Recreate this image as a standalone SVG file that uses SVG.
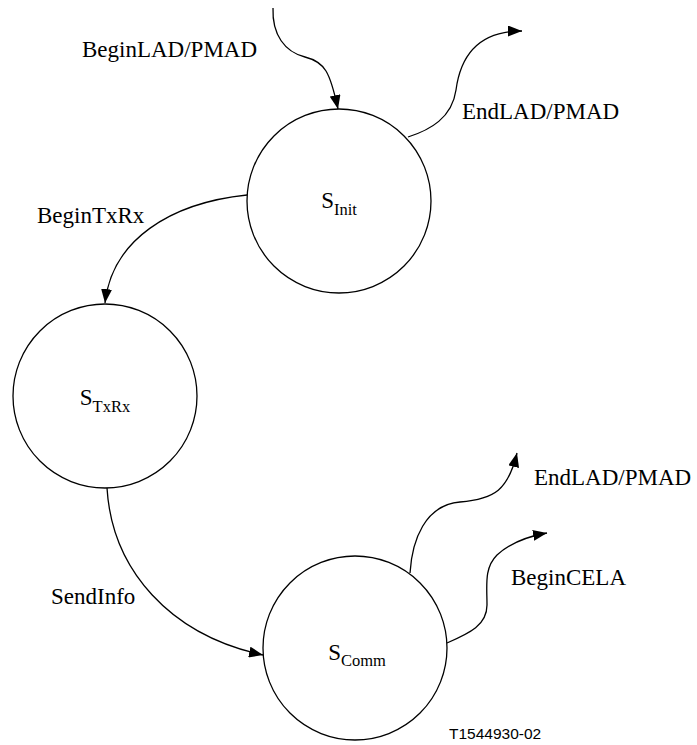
<svg xmlns="http://www.w3.org/2000/svg" width="697" height="745" viewBox="0 0 697 745">
<style>
.node{fill:#fff;stroke:#000;stroke-width:1.3}
.edge{fill:none;stroke:#000;stroke-width:1.3}
.lbl{font-size:23px;fill:#000}
.sub{font-size:16.5px}
.code{font-size:15.5px;fill:#000}
</style>
<defs>
<marker id="arr" markerUnits="userSpaceOnUse" markerWidth="14" markerHeight="11" refX="14" refY="5.5" orient="auto">
<path d="M0,0 L14,5.5 L0,11 Z" fill="#000"/>
</marker>
</defs>
<g id="connectors" font-family="Liberation Serif, DejaVu Serif, serif">
<path class="edge" marker-end="url(#arr)" d="M273,8 C272,35 285,52 305,57 C325,62 330,72 338,109"/>
<path class="edge" marker-end="url(#arr)" d="M408,137 C430,130 452,118 456,90 C460,60 475,31 522,31"/>
<path class="edge" marker-end="url(#arr)" d="M247,195 C170,203 112,240 105,303"/>
<path class="edge" marker-end="url(#arr)" d="M107,488 C112,570 170,635 263,655"/>
<path class="edge" marker-end="url(#arr)" d="M410,573 C412,540 425,505 460,502 C495,499 508,490 517,453"/>
<path class="edge" marker-end="url(#arr)" d="M447,643 C470,633 487,625 487,605 C487,585 484,568 497,555 C510,543 530,536 547,533"/>
<text class="lbl" x="82" y="57">BeginLAD/PMAD</text>
<text class="lbl" x="462" y="119">EndLAD/PMAD</text>
<text class="lbl" x="37" y="223">BeginTxRx</text>
<text class="lbl" x="51" y="604">SendInfo</text>
<text class="lbl" x="534" y="485">EndLAD/PMAD</text>
<text class="lbl" x="511" y="585">BeginCELA</text>
</g>
<g id="S_Init" font-family="Liberation Serif, DejaVu Serif, serif">
<circle class="node" cx="339" cy="201" r="92"/>
<text class="lbl" x="339" y="208" text-anchor="middle">S<tspan class="sub" dy="7">Init</tspan></text>
</g>
<g id="S_TxRx" font-family="Liberation Serif, DejaVu Serif, serif">
<circle class="node" cx="105" cy="396" r="92"/>
<text class="lbl" x="105" y="405" text-anchor="middle">S<tspan class="sub" dy="7">TxRx</tspan></text>
</g>
<g id="S_Comm" font-family="Liberation Serif, DejaVu Serif, serif">
<circle class="node" cx="355" cy="648" r="92"/>
<text class="lbl" x="357" y="660" text-anchor="middle">S<tspan class="sub" dy="6">Comm</tspan></text>
</g>
<text class="code" x="449" y="739" font-family="Liberation Sans, Arial, sans-serif">T1544930-02</text>
</svg>
